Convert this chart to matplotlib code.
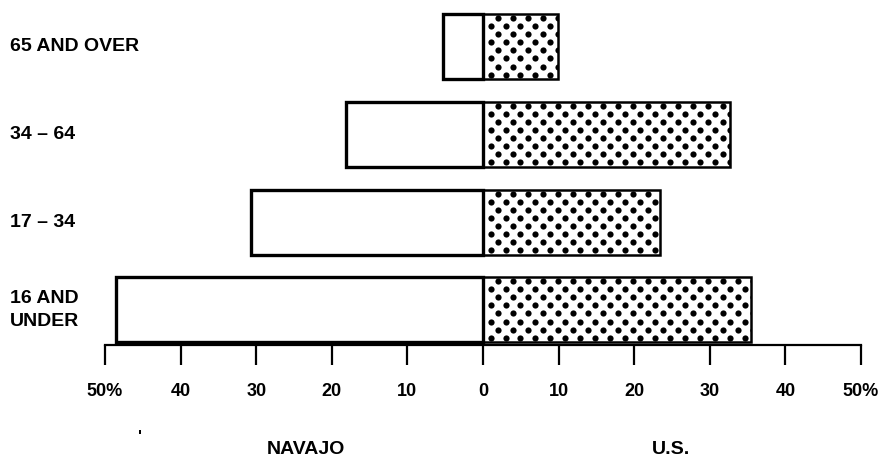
import numpy as np
import matplotlib
matplotlib.use("Agg")
import matplotlib.pyplot as plt
from matplotlib.transforms import blended_transform_factory

plt.rcParams['font.family'] = ['Liberation Sans', 'DejaVu Sans']
plt.rcParams['font.weight'] = 'bold'

# ---- data ----
categories = ["16 AND\nUNDER", "17 – 34", "34 – 64", "65 AND OVER"]
navajo = [48.5, 30.7, 18.1, 5.3]
us = [35.4, 23.4, 32.7, 9.9]
tick_values = [-50, -40, -30, -20, -10, 0, 10, 20, 30, 40, 50]
tick_labels = ["50%", "40", "30", "20", "10", "0", "10", "20", "30", "40", "50%"]

fig = plt.figure(figsize=(8.85, 4.62), dpi=100)
ax = fig.add_axes([105/885, 117/462, 756/885, 345/462])

ypos = np.arange(len(categories))
h = 0.74
ax.barh(ypos, us, height=h, color='white', edgecolor='none', zorder=2)
nav_bars = ax.barh(ypos, [-v for v in navajo], height=h, color='white',
                   edgecolor='black', linewidth=2.4, zorder=3)
us_bars = ax.barh(ypos, us, height=h, color='none',
                  edgecolor='black', linewidth=1.8, zorder=5)

# dotted texture for the U.S. bars
dx, dy = 1.98, 0.0915
for bar in us_bars:
    x0, w = bar.get_x(), bar.get_width()
    y0, bh = bar.get_y(), bar.get_height()
    rows = np.arange(y0 + dy * 0.6, y0 + bh + dy, dy)
    px, py = [], []
    for i, yy in enumerate(rows):
        start = x0 + 1.0 + (dx / 2 if i % 2 else 0)
        xs = np.arange(start, x0 + w + dx, dx)
        px.extend(xs)
        py.extend([yy] * len(xs))
    sc = ax.scatter(px, py, s=20, color='black', linewidths=0, zorder=4)
    sc.set_clip_path(bar)

ax.set_xlim(-50, 50)
ax.set_ylim(-0.40, 3.535)
for s in ['top', 'right', 'left']:
    ax.spines[s].set_visible(False)
ax.spines['bottom'].set_linewidth(1.6)
ax.set_yticks([])
ax.set_xticks(tick_values)
ax.set_xticklabels(tick_labels, fontsize=13, fontweight='bold')
ax.tick_params(axis='x', direction='out', length=14.5, width=1.6, pad=13)
ax.set_facecolor('white')

trans = blended_transform_factory(fig.transFigure, ax.transData)
for y, c in zip(ypos, categories):
    ax.text(10/885, y, c, transform=trans, ha='left', va='center',
            fontsize=14, fontweight='bold', linespacing=1.45)

fig.text(306/885, 4/462, "NAVAJO", ha='center', va='bottom',
         fontsize=14, fontweight='bold')
fig.text(671/885, 4/462, "U.S.", ha='center', va='bottom',
         fontsize=14, fontweight='bold')
fig.text(140/885, 24/462, "'", ha='center', va='center',
         fontsize=12, fontweight='bold')

fig.savefig("out.png", dpi=100)
